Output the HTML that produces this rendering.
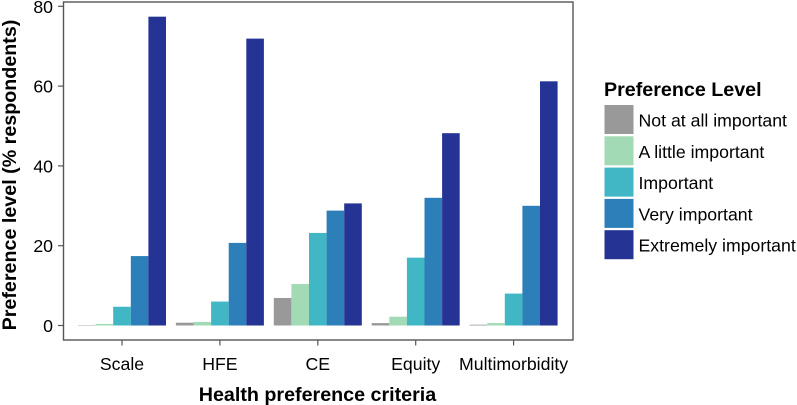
<!DOCTYPE html>
<html>
<head>
<meta charset="utf-8">
<style>
html,body{margin:0;padding:0;background:#fff;}
svg{display:block;font-family:"Liberation Sans",Arial,sans-serif;}
</style>
</head>
<body>
<svg id="chart" width="797" height="405" viewBox="0 0 797 405" xmlns="http://www.w3.org/2000/svg">
  <g id="bars"></g>
  <rect x="63.5" y="2" width="509.5" height="338" fill="none" stroke="#555" stroke-width="1.4"/>
  <g id="y-axis"></g>
  <g id="x-axis"></g>
  <text transform="translate(16,175) rotate(-90)" text-anchor="middle" font-size="19.7" font-weight="bold" fill="#000">Preference level (% respondents)</text>
  <text x="317.5" y="401" text-anchor="middle" font-size="19.7" font-weight="bold" fill="#000">Health preference criteria</text>
  <g id="legend">
    <text x="604" y="96" font-size="19.7" font-weight="bold" fill="#000">Preference Level</text>
  </g>
</svg>
<script>
const categories = ["Scale", "HFE", "CE", "Equity", "Multimorbidity"];
const levels = ["Not at all important", "A little important", "Important", "Very important", "Extremely important"];
const colors = ["#999999", "#a1dab4", "#41b6c4", "#2c7fb8", "#253494"];
const notAtAll = [0.1, 0.7, 6.9, 0.6, 0.2];
const aLittle = [0.4, 0.9, 10.4, 2.2, 0.6];
const important = [4.7, 6.0, 23.2, 17.0, 8.0];
const veryImportant = [17.4, 20.7, 28.8, 32.0, 30.0];
const extremelyImportant = [77.4, 71.9, 30.6, 48.2, 61.2];
const series = [notAtAll, aLittle, important, veryImportant, extremelyImportant];
const yTicks = [0, 20, 40, 60, 80];

const NS = "http://www.w3.org/2000/svg";
const yScale = v => 325.5 - v * 3.99;
const xScale = i => 122 + i * 97.9;
const barW = 17.6;

function make(tag, attrs, parent) {
  const el = document.createElementNS(NS, tag);
  for (const k in attrs) el.setAttribute(k, attrs[k]);
  parent.appendChild(el);
  return el;
}

const barsG = document.getElementById("bars");
series.forEach((vals, s) => {
  vals.forEach((v, c) => {
    const x = xScale(c) + (s - 2.5) * barW;
    const bar = make("rect", {x: x, y: yScale(v), width: barW, height: yScale(0) - yScale(v), fill: colors[s]}, barsG);
    
    
  });
});

const yG = document.getElementById("y-axis");
yTicks.forEach(t => {
  const y = yScale(t);
  const tick = make("line", {x1: 58, x2: 63.5, y1: y, y2: y, stroke: "#555", "stroke-width": 1.2}, yG);
  
  
  const label = make("text", {x: 53, y: y + 6.5, "text-anchor": "end", "font-size": 17.7, fill: "#000"}, yG);
  
  
  label.textContent = t;
});

const xG = document.getElementById("x-axis");
categories.forEach((c, i) => {
  const x = xScale(i);
  const tick = make("line", {x1: x, x2: x, y1: 340, y2: 345.5, stroke: "#555", "stroke-width": 1.2}, xG);
  
  
  const label = make("text", {x: x, y: 370, "text-anchor": "middle", "font-size": 17.7, fill: "#000"}, xG);
  
  
  label.textContent = c;
});

const legendG = document.getElementById("legend");
levels.forEach((name, i) => {
  const y = 105 + i * 31.3;
  const key = make("rect", {x: 604.5, y: y, width: 29, height: 29, fill: colors[i]}, legendG);
  
  
  const label = make("text", {x: 638.5, y: y + 21.5, "font-size": 17.7, fill: "#000"}, legendG);
  
  
  label.textContent = name;
});
</script>
</body>
</html>
